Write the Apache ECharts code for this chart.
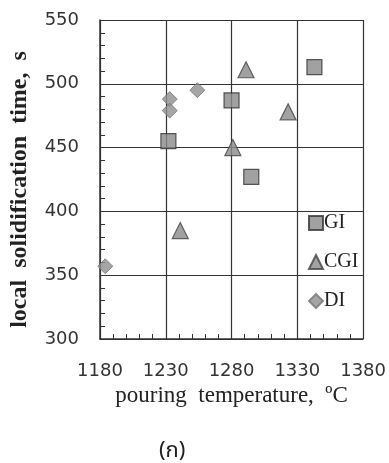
<!DOCTYPE html>
<html>
<head>
<meta charset="utf-8">
<script src="https://cdn.jsdelivr.net/npm/echarts@6/dist/echarts.min.js"></script>
<style>html,body{margin:0;padding:0;background:#fff}#c{width:389px;height:463px}</style>
</head>
<body>
<div id="c"></div>
<script>
const xTicks = [1180, 1230, 1280, 1330, 1380];
const yTicks = [300, 350, 400, 450, 500, 550];
const seriesNames = ['GI', 'CGI', 'DI'];
const giData = [[1232, 455], [1280, 487], [1343, 513], [1295, 427]];
const cgiData = [[1291, 511], [1323, 478], [1281, 450], [1241, 385]];
const diData = [[1233, 488], [1233, 479], [1254, 495], [1184, 357]];

const chart = echarts.init(document.getElementById('c'));
const axisCommon = {
  axisLine: {show: true, lineStyle: {color: '#333', width: 1.5}},
  axisTick: {show: false, inside: true},
  minorTick: {show: true, splitNumber: 5, length: 5, inside: true, lineStyle: {color: '#333', width: 1}},
  splitLine: {show: true, lineStyle: {color: '#333', width: 1.2}},
  axisLabel: {color: '#333', fontFamily: 'DejaVu Sans', fontSize: 18, formatter: v => String(v)}
};
chart.setOption({
  animation: false,
  grid: {left: 97, top: 20, right: 25, bottom: 124},
  xAxis: Object.assign({}, axisCommon, {
    type: 'value', min: xTicks[0], max: xTicks[xTicks.length - 1], interval: 50,
    name: 'pouring  temperature,  ºC', nameLocation: 'middle', nameGap: 41,
    nameTextStyle: {fontFamily: 'Liberation Serif', fontSize: 23, color: '#222'},
    axisLabel: Object.assign({}, axisCommon.axisLabel, {margin: 23})
  }),
  yAxis: Object.assign({}, axisCommon, {
    type: 'value', min: yTicks[0], max: yTicks[yTicks.length - 1], interval: 50,
    name: 'local  solidification  time,  s', nameLocation: 'middle', nameGap: 68,
    nameTextStyle: {fontFamily: 'Liberation Serif', fontSize: 24, fontWeight: 'bold', color: '#222', padding: [0, 20, 0, 0]},
    axisLabel: Object.assign({}, axisCommon.axisLabel, {margin: 21})
  }),
  legend: {
    orient: 'vertical', left: 303, top: 208, itemWidth: 14, itemHeight: 14, itemGap: 19,
    textStyle: {fontFamily: 'Liberation Serif', fontSize: 20, color: '#222', padding: [0, 0, 0, -4]},
    data: seriesNames
  },
  series: [
    {name: seriesNames[0], type: 'scatter', symbol: 'rect', symbolSize: 15, data: giData,
     itemStyle: {color: '#8a8a8a', borderColor: '#333', borderWidth: 1.2}},
    {name: seriesNames[1], type: 'scatter', symbol: 'triangle', symbolSize: [16, 16], data: cgiData,
     itemStyle: {color: '#8a8a8a', borderColor: '#444', borderWidth: 1.2}},
    {name: seriesNames[2], type: 'scatter', symbol: 'diamond', symbolSize: 15, data: diData,
     itemStyle: {color: '#8f8f8f', borderColor: '#777', borderWidth: 1}}
  ],
  graphic: [{type: 'text', left: 159, top: 442,
    style: {text: '(ก)', fontFamily: 'Noto Sans Thai, Noto Sans, sans-serif', fontSize: 22, fill: '#222'}}]
});
</script>
</body>
</html>
